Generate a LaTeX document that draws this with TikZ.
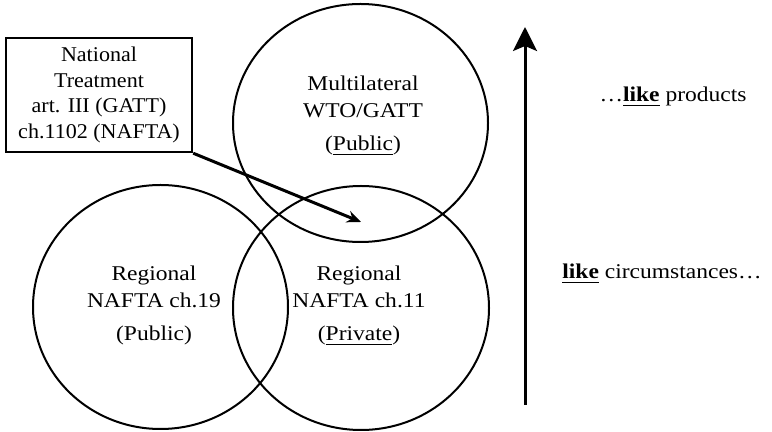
\documentclass[tikz,border=0pt]{standalone}
\usepackage{fontspec}
\setmainfont{Liberation Serif}[FakeStretch=1.12]
\newfontfamily\boxfont{Liberation Serif}[FakeStretch=1.05]
\usetikzlibrary{arrows.meta}
\tikzset{ring/.style={line width=1pt},
  lbl/.style={align=center, inner sep=0pt, font=\fontsize{10.5}{13.5}\selectfont},
  ptr/.style={line width=1.5pt, -{Stealth[length=7pt,width=6pt]}}}

\begin{document}
\begin{tikzpicture}[x=0.5pt,y=-0.5pt]
  \useasboundingbox (0,0) rectangle (772,432);
  % the three fora
  \draw[ring] (360.5,123) ellipse (63.75pt and 59.5pt);
  \draw[ring] (160.5,307) ellipse (63.75pt and 61pt);
  \draw[ring] (361,308) ellipse (64pt and 61pt);
  \node[lbl, anchor=north] (multi) at (363,76) {Multilateral\\WTO/GATT\\[3pt](\underline{Public})};
  \node[lbl, anchor=north] (reg19) at (154,266) {Regional\\NAFTA ch.19\\[3pt](Public)};
  \node[lbl, anchor=north] (reg11) at (359,266) {Regional\\NAFTA ch.11\\[3pt](\underline{Private})};
  % national treatment box
  \node[draw, line width=1.2pt, minimum width=93pt, minimum height=57pt, align=center, inner sep=0pt,
    font=\boxfont\fontsize{10.5}{12.75}\selectfont] (natl) at (99,95)
    {National\\Treatment\\art. III (GATT)\\ch.1102 (NAFTA)};
  \coordinate (aim) at (361,222);
  \draw[ptr] (natl.south east) -- (aim);
  % likeness scale
  \coordinate (lo) at (525,405);
  \coordinate (hi) at (525,27);
  \draw[line width=1.5pt, -{Stealth[length=12pt,width=12pt,inset=2.5pt]}] (lo) -- (hi);
  \node[lbl, anchor=base] (prod) at (673,102) {…\underline{\textbf{like}} products};
  \node[lbl, anchor=base] (circ) at (662,279) {\underline{\textbf{like}} circumstances…};
\end{tikzpicture}
\end{document}
